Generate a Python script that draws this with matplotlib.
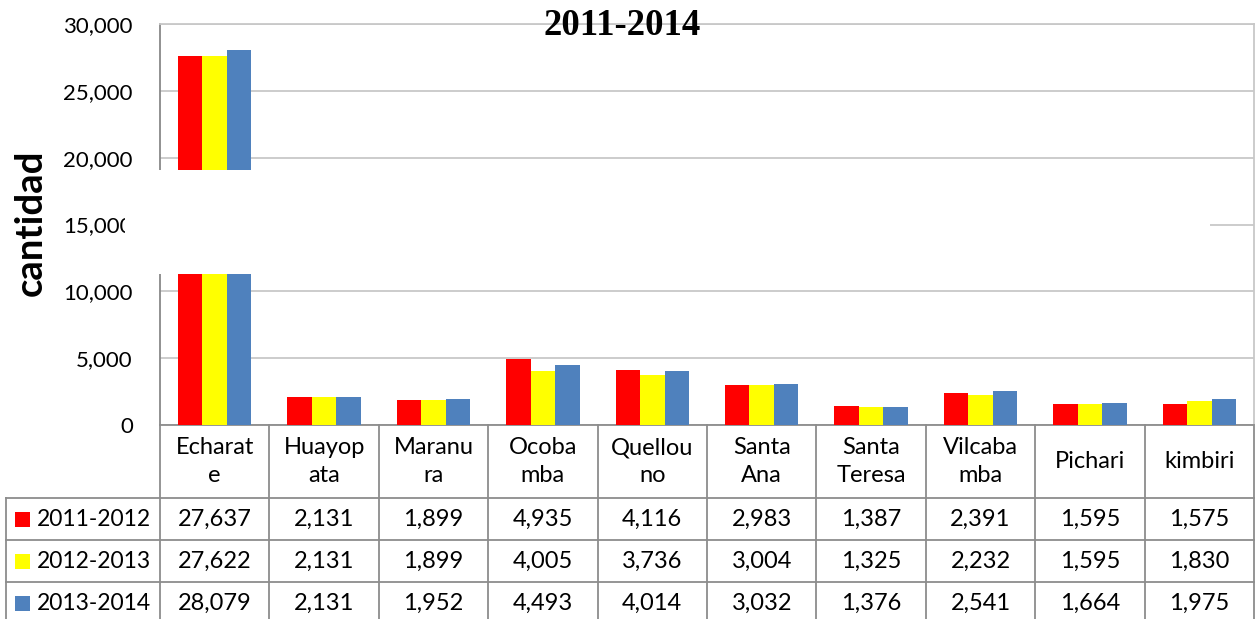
import matplotlib
matplotlib.use('Agg')
import matplotlib.pyplot as plt
from matplotlib.patches import Rectangle
from matplotlib.ticker import StrMethodFormatter
import numpy as np

# data
districts = ["Echarate", "Huayopata", "Maranura", "Ocobamba", "Quellouno",
             "Santa Ana", "Santa Teresa", "Vilcabamba", "Pichari", "kimbiri"]
# header cells as wrapped in the table
district_cells = ["Echarat\ne", "Huayop\nata", "Maranu\nra", "Ocoba\nmba", "Quellou\nno",
                  "Santa\nAna", "Santa\nTeresa", "Vilcaba\nmba", "Pichari", "kimbiri"]
periods = ["2011-2012", "2012-2013", "2013-2014"]
v_2011_2012 = [27637, 2131, 1899, 4935, 4116, 2983, 1387, 2391, 1595, 1575]
v_2012_2013 = [27622, 2131, 1899, 4005, 3736, 3004, 1325, 2232, 1595, 1830]
v_2013_2014 = [28079, 2131, 1952, 4493, 4014, 3032, 1376, 2541, 1664, 1975]
series = [v_2011_2012, v_2012_2013, v_2013_2014]
colors = ["#FF0000", "#FFFF00", "#4F81BD"]

W, H = 1257, 619
fig = plt.figure(figsize=(W / 100, H / 100), dpi=100)
plt.rcParams['font.family'] = ['Lato', 'DejaVu Sans']

# plot area in pixels
px_l, px_r, px_t, px_b = 160, 1254, 24, 425
ax = fig.add_axes([px_l / W, (H - px_b) / H, (px_r - px_l) / W, (px_b - px_t) / H])
ax_h = px_b - px_t
col_w = (px_r - px_l) / len(districts)

x = np.arange(len(districts))
bw = 24.5 / col_w
for k, (vals, c) in enumerate(zip(series, colors)):
    ax.bar(x + (k - 1) * bw, vals, width=bw, color=c, zorder=3, linewidth=0)

ax.set_xlim(-0.5, len(districts) - 0.5)
ax.set_ylim(0, 30000)
ax.set_yticks(np.arange(0, 30001, 5000))
ax.yaxis.set_major_formatter(StrMethodFormatter('{x:,.0f}'))
ax.tick_params(axis='y', length=0, pad=19.5, labelsize=16)
ax.set_xticks([])
ax.grid(axis='y', color='#C8C8C8', linewidth=1.3, zorder=0)
ax.spines['top'].set_color('#C8C8C8')
ax.spines['right'].set_color('#C8C8C8')
ax.spines['left'].set_color('#888888')
ax.spines['bottom'].set_color('#8C8C8C')
for s in ax.spines.values():
    s.set_linewidth(1.3)

# data table under the plot
trans = ax.get_xaxis_transform()
line_kw = dict(color='#8C8C8C', linewidth=1.3, transform=trans, clip_on=False)
y_head = -73 / ax_h
y_rows = [-115 / ax_h, -157 / ax_h]
y_bot = -205 / ax_h
x_left = -0.5 - (px_l - 6) / col_w
for yy in [y_head] + y_rows:
    ax.plot([x_left, len(districts) - 0.5], [yy, yy], **line_kw)
for k in range(len(districts) + 1):
    ax.plot([k - 0.5, k - 0.5], [0, y_bot], **line_kw)
ax.plot([x_left, x_left], [y_head, y_bot], **line_kw)

for i, name in enumerate(district_cells):
    ax.text(i, -36.5 / ax_h, name, transform=trans, ha='center', va='center',
            fontsize=17, linespacing=1.4, clip_on=False)

row_centers = [-94 / ax_h, -136 / ax_h, -178 / ax_h]
sq = 15
for yc, label, vals, c in zip(row_centers, periods, series, colors):
    ax.add_patch(Rectangle((-0.5 - (px_l - 15) / col_w, yc - sq / 2 / ax_h), sq / col_w, sq / ax_h,
                           facecolor=c, edgecolor='none', transform=trans, clip_on=False))
    ax.text(-0.5 - (px_l - 37) / col_w, yc, label, transform=trans, ha='left', va='center',
            fontsize=16.5, clip_on=False)
    for i, v in enumerate(vals):
        ax.text(i, yc, f"{v:,}", transform=trans, ha='center', va='center',
                fontsize=17, clip_on=False)

# white band that breaks the axis
fig.add_artist(Rectangle((125 / W, (H - 274) / H), (1210 - 125) / W, 104 / H,
                         transform=fig.transFigure, facecolor='white', edgecolor='none', zorder=10))

fig.text(622 / W, 1 - 35 / H, "2011-2014", ha='center', va='baseline', fontsize=26.5,
         fontweight='bold', family=['Liberation Serif', 'DejaVu Serif'], zorder=11)
fig.text(31 / W, 1 - 223 / H, "cantidad", rotation=90, ha='center', va='center',
         fontsize=27.5, fontweight='bold')

fig.savefig("out.png", dpi=100)
